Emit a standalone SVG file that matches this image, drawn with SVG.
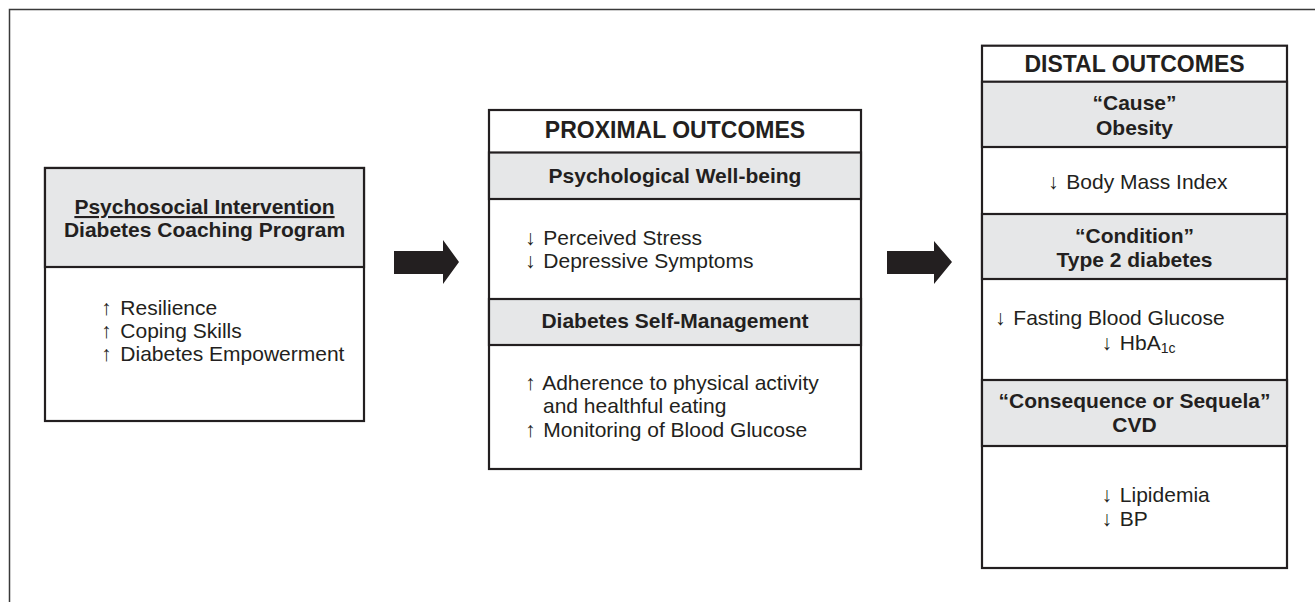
<svg xmlns="http://www.w3.org/2000/svg" width="1315" height="602" viewBox="0 0 1315 602">
<style>
.frame{fill:none;stroke:#3a3a3a;stroke-width:1.5}
.box{fill:#fff;stroke:#231f20;stroke-width:2.2}
.hdr{fill:#e6e7e8;stroke:#231f20;stroke-width:2.2}
.t{font-family:"Liberation Sans",Arial,sans-serif;fill:#231f20}
.title{font-size:23px;font-weight:bold;text-anchor:middle}
.h{font-size:21px;font-weight:bold;text-anchor:middle}
.b{font-size:21px}
.arrow{fill:#231f20}
</style>
<rect width="1315" height="602" fill="#fff"/>
<path class="frame" d="M9.5 602 V9.5 H1315"/>

<g id="intervention">
<rect class="box" x="45" y="168" width="319" height="253"/>
<rect class="hdr" x="45" y="168" width="319" height="99"/>
<text class="t h" x="204.5" y="214" text-decoration="underline">Psychosocial Intervention</text>
<text class="t h" x="204.5" y="237">Diabetes Coaching Program</text>
<text class="t b" x="101" y="315">↑<tspan dx="3"> Resilience</tspan></text>
<text class="t b" x="101" y="338">↑<tspan dx="3"> Coping Skills</tspan></text>
<text class="t b" x="101" y="361">↑<tspan dx="3"> Diabetes Empowerment</tspan></text>
</g>

<g id="proximal">
<rect class="box" x="489" y="110" width="372" height="359"/>
<rect class="hdr" x="489" y="152.5" width="372" height="46.5"/>
<rect class="hdr" x="489" y="299" width="372" height="46"/>
<text class="t title" x="675" y="138">PROXIMAL OUTCOMES</text>
<text class="t h" x="675" y="183">Psychological Well-being</text>
<text class="t b" x="525" y="245">↓<tspan dx="2"> Perceived Stress</tspan></text>
<text class="t b" x="525" y="268">↓<tspan dx="2"> Depressive Symptoms</tspan></text>
<text class="t h" x="675" y="328">Diabetes Self-Management</text>
<text class="t b" x="525" y="390">↑<tspan dx="2"> Adherence to physical activity</tspan></text>
<text class="t b" x="543" y="413">and healthful eating</text>
<text class="t b" x="525" y="437">↑<tspan dx="2"> Monitoring of Blood Glucose</tspan></text>
</g>

<g id="distal">
<rect class="box" x="982" y="45.7" width="305" height="522.3"/>
<rect class="hdr" x="982" y="81.7" width="305" height="65.3"/>
<rect class="hdr" x="982" y="214" width="305" height="65"/>
<rect class="hdr" x="982" y="380" width="305" height="66"/>
<text class="t title" x="1134.5" y="71.7">DISTAL OUTCOMES</text>
<text class="t h" x="1134.5" y="110">“Cause”</text>
<text class="t h" x="1134.5" y="135">Obesity</text>
<text class="t b" x="1048" y="189">↓<tspan dx="2"> Body Mass Index</tspan></text>
<text class="t h" x="1134.5" y="243">“Condition”</text>
<text class="t h" x="1134.5" y="267">Type 2 diabetes</text>
<text class="t b" x="995" y="325">↓<tspan dx="2"> Fasting Blood Glucose</tspan></text>
<text class="t b" x="1101.5" y="350">↓<tspan dx="2"> HbA</tspan><tspan font-size="14" dy="3">1c</tspan></text>
<text class="t h" x="1134.5" y="408">“Consequence or Sequela”</text>
<text class="t h" x="1134.5" y="432">CVD</text>
<text class="t b" x="1101.5" y="502">↓<tspan dx="2"> Lipidemia</tspan></text>
<text class="t b" x="1101.5" y="526">↓<tspan dx="2"> BP</tspan></text>
</g>

<g id="connectors">
<polygon class="arrow" points="394,251 443,251 443,240 459,262 443,284 443,274 394,274"/>
<polygon class="arrow" points="887,251 934,251 934,241 952,262 934,284 934,274 887,274"/>
</g>
</svg>
